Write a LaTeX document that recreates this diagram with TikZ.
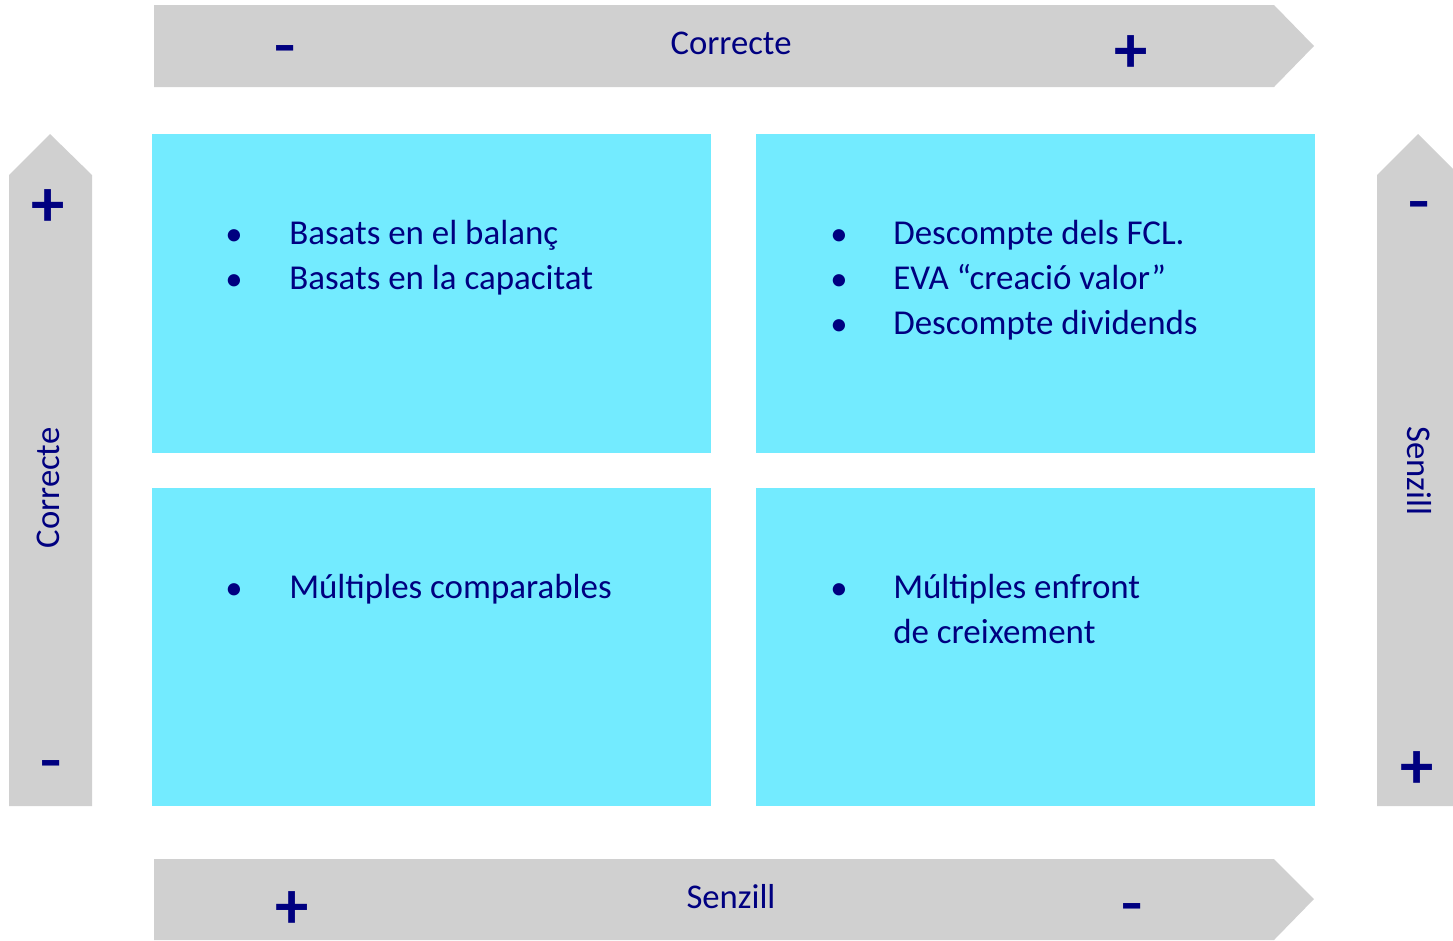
\documentclass[tikz,border=0pt]{standalone}
\usepackage{fontspec}
\setmainfont{Carlito}
\begin{document}
\begin{tikzpicture}[x=0.75pt,y=-0.75pt,
  band/.style={fill=bandgray,draw=none},
  quad/.style={fill=quadcyan,draw=none},
  lbl/.style={text=navy,font=\fontsize{26}{30}\selectfont,inner sep=0pt},
  plus/.style={text=navy,font=\fontsize{50}{50}\selectfont\bfseries,inner sep=0pt},
  minus/.style={text=navy,font=\fontsize{40}{40}\selectfont\bfseries,inner sep=0pt,xscale=1.3},
  item/.style={text=navy,font=\fontsize{26.2}{32}\selectfont,inner sep=0pt,anchor=base west},
  dot/.style={text=navy,font=\fontsize{26}{30}\selectfont,inner sep=0pt,anchor=base}]
\definecolor{bandgray}{HTML}{D0D0D0}
\definecolor{quadcyan}{HTML}{73EBFF}
\definecolor{navy}{HTML}{000080}
\useasboundingbox (0,0) rectangle (1453,940);
% arrow bands
\fill[band] (154,5) -- (1274,5) -- (1314,46) -- (1274,87) -- (154,87) -- cycle;
\fill[band] (154,859) -- (1274,859) -- (1314,899) -- (1274,940) -- (154,940) -- cycle;
\fill[band] (9,806) -- (9,175) -- (50,134) -- (92,175) -- (92,806) -- cycle;
\fill[band] (1377,806) -- (1377,175) -- (1418,134) -- (1459,175) -- (1459,806) -- cycle;
% quadrants
\fill[quad] (152,134) rectangle (711,453);
\fill[quad] (756,134) rectangle (1315,453);
\fill[quad] (152,488) rectangle (711,806);
\fill[quad] (756,488) rectangle (1315,806);
% axis labels
\node[lbl] (ctop) at (731,43) {Correcte};
\node[lbl] (sbot) at (731,897) {Senzill};
\node[lbl,rotate=90] (cleft) at (48,488) {Correcte};
\node[lbl,rotate=-90] (sright) at (1419,471) {Senzill};
% signs
\node[minus] (tm) at (285,55) {-};
\node[plus] (tp) at (1131,54) {+};
\node[plus] (bp) at (292,910) {+};
\node[minus] (bm) at (1132,912) {-};
\node[plus] (lp) at (48,208) {+};
\node[minus] (lm) at (51,770) {-};
\node[minus] (rm) at (1419,211) {-};
\node[plus] (rp) at (1417,770) {+};
% quadrant contents
\node[dot] (d11) at (234,245) {•};
\node[dot] (d12) at (234,290) {•};
\node[item] (t11) at (289,244) {Basats en el balanç};
\node[item] (t12) at (289,289) {Basats en la capacitat};
\node[dot] (d21) at (839,245) {•};
\node[dot] (d22) at (839,290) {•};
\node[dot] (d23) at (839,335) {•};
\node[item] (t21) at (893,244) {Descompte dels FCL.};
\node[item] (t22) at (893,289) {EVA “creació valor”};
\node[item] (t23) at (893,334) {Descompte dividends};
\node[dot] (d31) at (234,599) {•};
\node[item] (t31) at (289,598) {Múltiples comparables};
\node[dot] (d41) at (839,599) {•};
\node[item] (t41) at (893,598) {Múltiples enfront};
\node[item] (t42) at (893,643) {de creixement};
\end{tikzpicture}
\end{document}
